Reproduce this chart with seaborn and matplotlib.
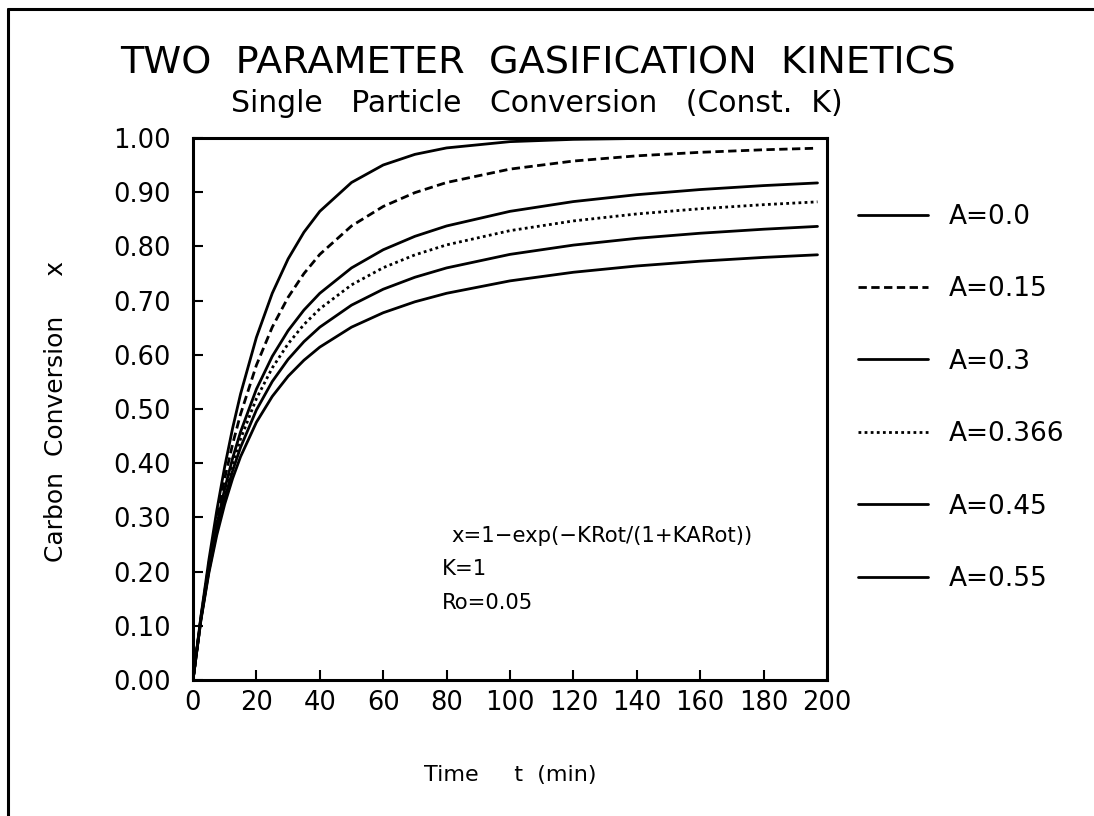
import numpy as np
import pandas as pd
import matplotlib
matplotlib.use("Agg")
import matplotlib.pyplot as plt
from matplotlib.lines import Line2D
import seaborn as sns

# ---- data ----
time_min = [0, 2.5, 5, 7.5, 10, 12.5, 15, 20, 25, 30, 35, 40, 50, 60, 70, 80,
            100, 120, 140, 160, 180, 197]
x_A000 = [0.0, 0.1175, 0.2212, 0.3127, 0.3935, 0.4647, 0.5276, 0.6321, 0.7135, 0.7769,
          0.8262, 0.8647, 0.9179, 0.9502, 0.9698, 0.9817, 0.9933, 0.9975, 0.9991,
          0.9997, 0.9999, 1.0]
x_A015 = [0.0, 0.1155, 0.2141, 0.2988, 0.3719, 0.4353, 0.4904, 0.5809, 0.6510, 0.7061,
          0.7499, 0.7853, 0.8377, 0.8737, 0.8992, 0.9179, 0.9426, 0.9575, 0.9671,
          0.9736, 0.9783, 0.9812]
x_A030 = [0.0, 0.1135, 0.2075, 0.2862, 0.3526, 0.4092, 0.4578, 0.5366, 0.5971, 0.6446,
          0.6826, 0.7135, 0.7603, 0.7938, 0.8186, 0.8377, 0.8647, 0.8827, 0.8954,
          0.9049, 0.9122, 0.9171]
x_A0366 = [0.0, 0.1127, 0.2047, 0.2809, 0.3447, 0.3987, 0.4448, 0.5191, 0.5758, 0.6203,
           0.6559, 0.6848, 0.7290, 0.7607, 0.7844, 0.8028, 0.8291, 0.8470, 0.8599,
           0.8695, 0.8770, 0.8822]
x_A045 = [0.0, 0.1116, 0.2012, 0.2745, 0.3351, 0.3861, 0.4293, 0.4982, 0.5507, 0.5916,
          0.6243, 0.6510, 0.6916, 0.7210, 0.7431, 0.7603, 0.7853, 0.8024, 0.8149,
          0.8243, 0.8317, 0.8369]
x_A055 = [0.0, 0.1104, 0.1973, 0.2672, 0.3244, 0.3719, 0.4120, 0.4755, 0.5232, 0.5604,
          0.5900, 0.6142, 0.6510, 0.6776, 0.6978, 0.7135, 0.7364, 0.7523, 0.7639,
          0.7727, 0.7797, 0.7845]
series_labels = ["A=0.0", "A=0.15", "A=0.3", "A=0.366", "A=0.45", "A=0.55"]
series_values = [x_A000, x_A015, x_A030, x_A0366, x_A045, x_A055]

x_ticks = [0, 20, 40, 60, 80, 100, 120, 140, 160, 180, 200]
y_ticks = [0.0, 0.1, 0.2, 0.3, 0.4, 0.5, 0.6, 0.7, 0.8, 0.9, 1.0]
y_tick_labels = ["0.00", "0.10", "0.20", "0.30", "0.40", "0.50", "0.60", "0.70",
                 "0.80", "0.90", "1.00"]

title = "TWO  PARAMETER  GASIFICATION  KINETICS"
subtitle = "Single   Particle   Conversion   (Const.  K)"
y_label = "Carbon  Conversion     x"
x_label = "Time     t  (min)"
notes = ["x=1\u2212exp(\u2212KRot/(1+KARot))", "K=1", "Ro=0.05"]

# ---- style ----
sns.set_style("ticks")
plt.rcParams["font.family"] = ["DejaVu Sans"]
plt.rcParams["text.color"] = "black"
plt.rcParams["axes.labelcolor"] = "black"
plt.rcParams["xtick.color"] = "black"
plt.rcParams["ytick.color"] = "black"

line_styles = ["-", (0, (3.0, 1.6)), "-", (0, (1.0, 1.2)), "-", "-"]

frames = []
for lab, vals in zip(series_labels, series_values):
    frames.append(pd.DataFrame({"t": time_min, "x": vals, "A": lab}))
df = pd.concat(frames, ignore_index=True)

W, H = 1094, 816
fig = plt.figure(figsize=(W / 100, H / 100), dpi=100)
ax = fig.add_axes([193 / W, 1 - 680 / H, (827 - 193) / W, (680 - 138) / H])

for lab, ls in zip(series_labels, line_styles):
    sub = df[df["A"] == lab]
    sns.lineplot(data=sub, x="t", y="x", ax=ax, color="black", linewidth=2.0,
                 linestyle=ls, label=lab, legend=False)

ax.set_xlim(0, 200)
ax.set_ylim(0, 1.0)
ax.set_xticks(x_ticks)
ax.set_xticklabels([str(v) for v in x_ticks])
ax.set_yticks(y_ticks)
ax.set_yticklabels(y_tick_labels)
ax.tick_params(direction="in", length=7, width=1.5, labelsize=18.5, colors="black")
ax.tick_params(axis="x", pad=7)
ax.tick_params(axis="y", pad=16)
for s in ax.spines.values():
    s.set_linewidth(2.2)
    s.set_color("black")
    s.set_visible(True)
ax.set_xlabel(x_label, fontsize=16)
ax.xaxis.set_label_coords((510 - 193) / (827 - 193), -(765 - 680) / (680 - 138))
ax.set_ylabel(y_label, fontsize=18)
ax.yaxis.set_label_coords(-(193 - 68) / (827 - 193), (680 - 411) / (680 - 138))

for i, txt in enumerate(notes):
    xpos = 0.408 if i == 0 else 0.393
    ax.text(xpos, 0.266 - i * 0.062, txt, transform=ax.transAxes, fontsize=15.2,
            va="center", ha="left")

# legend
handles = [Line2D([0], [0], color="black", linewidth=2.0, linestyle=ls)
           for ls in line_styles]
fig.legend(handles, series_labels, loc="upper left",
           bbox_to_anchor=(834 / W, 1 - 180 / H), frameon=False, fontsize=19,
           handlelength=2.65, handletextpad=0.8, labelspacing=1.76)

fig.text(538 / W, 1 - 64 / H, title, ha="center", va="center", fontsize=27.5)
fig.text(537 / W, 1 - 104 / H, subtitle, ha="center", va="center", fontsize=21.5)

# page border lines (top and left)
fig.add_artist(Line2D([8 / W, 1.0], [1 - 9 / H, 1 - 9 / H], color="black",
                      linewidth=2.2, transform=fig.transFigure))
fig.add_artist(Line2D([8 / W, 8 / W], [0.0, 1 - 9 / H], color="black",
                      linewidth=2.2, transform=fig.transFigure))

fig.savefig("out.png", dpi=100, facecolor="white")
